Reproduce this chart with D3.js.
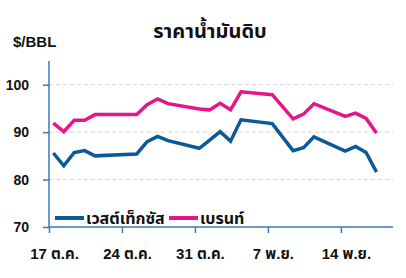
<!DOCTYPE html>
<html>
<head>
<meta charset="utf-8">
<script src="https://cdn.jsdelivr.net/npm/d3@7"></script>
<style>
  body { margin: 0; background: #fff; }
  text { font-family: "Liberation Sans", Arial, "Noto Sans Thai", "Noto Sans", sans-serif; font-weight: bold; fill: #111; }
</style>
</head>
<body>
<div class="canvas"></div>
<script>
// Data
const dates = ['2022-10-17','2022-10-18','2022-10-19','2022-10-20','2022-10-21',
    '2022-10-25','2022-10-26','2022-10-27','2022-10-28','2022-10-31',
    '2022-11-01','2022-11-02','2022-11-03','2022-11-04','2022-11-07',
    '2022-11-09','2022-11-10','2022-11-11','2022-11-14','2022-11-15',
    '2022-11-16','2022-11-17'];
const wti   = [85.6, 82.9, 85.7, 86.1, 85.0, 85.4, 88.0, 89.1, 88.2, 86.6,
               88.3, 90.1, 88.1, 92.6, 91.8, 86.1, 86.7, 89.0, 86.0, 87.0, 85.7, 81.6];
const brent = [91.9, 90.1, 92.5, 92.5, 93.7, 93.7, 95.8, 97.0, 96.0, 94.9,
               94.7, 96.1, 94.7, 98.5, 97.9, 92.8, 93.8, 96.0, 93.3, 94.0, 92.9, 89.8];
const seriesNames = ['เวสต์เท็กซัส', 'เบรนท์'];
const seriesColors = ['#0b5a96', '#e5168a'];
const yTicks = [70, 80, 90, 100];
const xTickDates = ['2022-10-17','2022-10-24','2022-10-31','2022-11-07','2022-11-14'];
const xTickLabels = ['17 ต.ค.', '24 ต.ค.', '31 ต.ค.', '7 พ.ย.', '14 พ.ย.'];

// Graph Set up
const svgWidth = 406;
const svgHeight = 278;
const margin = {top: 61, right: 13, bottom: 51, left: 49};
const graphWidth = svgWidth - margin.left - margin.right;
const graphHeight = svgHeight - margin.top - margin.bottom;

const svg = d3.select('.canvas')
    .append('svg')
    .attr('width', svgWidth)
    .attr('height', svgHeight);

const graph = svg.append('g')
    .attr('transform', `translate(${margin.left},${margin.top})`);

const parse = d3.utcParse('%Y-%m-%d');
// trading day points sit a bit after midnight
const atPoint = s => d3.utcHour.offset(parse(s), 10);

// Scales
const x = d3.scaleUtc()
    .domain([parse('2022-10-17'), parse('2022-11-19')])
    .range([0, graphWidth]);
const y = d3.scaleLinear()
    .domain([70, 105])
    .range([graphHeight, 0]);

// Grid lines
graph.append('g')
    .selectAll('line')
    .data(yTicks.filter(d => d > 70))
    .enter().append('line')
    .attr('x1', 0)
    .attr('x2', graphWidth)
    .attr('y1', d => y(d))
    .attr('y2', d => y(d))
    .attr('stroke', '#d4d4d4')
    .attr('stroke-width', 1)
    .attr('stroke-dasharray', '4,3');

// Axes
const axisColor = '#3b78b4';

const yAxis = d3.axisLeft(y)
    .tickValues(yTicks)
    .tickSize(6)
    .tickPadding(14);
const yAxisGroup = graph.append('g').call(yAxis);

const xAxis = d3.axisBottom(x)
    .tickValues(xTickDates.map(parse))
    .tickSize(6)
    .tickPadding(15)
    .tickFormat((d, i) => xTickLabels[i]);
const xAxisGroup = graph.append('g')
    .attr('transform', `translate(0,${graphHeight})`)
    .call(xAxis);

[xAxisGroup, yAxisGroup].forEach(g => {
    g.select('.domain').attr('stroke', axisColor).attr('stroke-width', 1.5);
    g.selectAll('.tick line').attr('stroke', axisColor).attr('stroke-width', 1.5);
    g.selectAll('text')
        .attr('fill', '#111')
        .style('font-size', '14px')
        .style('font-weight', 'bold');
});
xAxisGroup.select('.domain').attr('d', `M0,0H${graphWidth}`);
yAxisGroup.select('.domain').attr('d', `M0,${graphHeight}V0`);
xAxisGroup.selectAll('text').attr('dx', 5).style('font-size', '15px');

// Lines
const line = d3.line()
    .x(d => x(d.date))
    .y(d => y(d.value));

[wti, brent].forEach((vals, k) => {
    const data = vals.map((v, i) => ({date: atPoint(dates[i]), value: v}));
    graph.append('path')
        .datum(data)
        .attr('fill', 'none')
        .attr('stroke', seriesColors[k])
        .attr('stroke-width', 3.5)
        .attr('stroke-linejoin', 'miter')
        .attr('d', line);
});

// Legend
const legend = svg.append('g')
    .attr('transform', 'translate(55,218)');
const legendX = [0, 114];
seriesNames.forEach((name, k) => {
    const item = legend.append('g').attr('transform', `translate(${legendX[k]},0)`);
    item.append('line')
        .attr('x1', 0).attr('x2', 29)
        .attr('stroke', seriesColors[k])
        .attr('stroke-width', 4);
    item.append('text')
        .attr('x', 31)
        .attr('y', 6)
        .style('font-size', '16px')
        .text(name);
});

// Titles
svg.append('text')
    .attr('x', 210)
    .attr('y', 38)
    .attr('text-anchor', 'middle')
    .style('font-size', '20px')
    .text('ราคาน้ำมันดิบ');

svg.append('text')
    .attr('x', 13)
    .attr('y', 47)
    .style('font-size', '15px')
    .text('$/BBL');
</script>
</body>
</html>
